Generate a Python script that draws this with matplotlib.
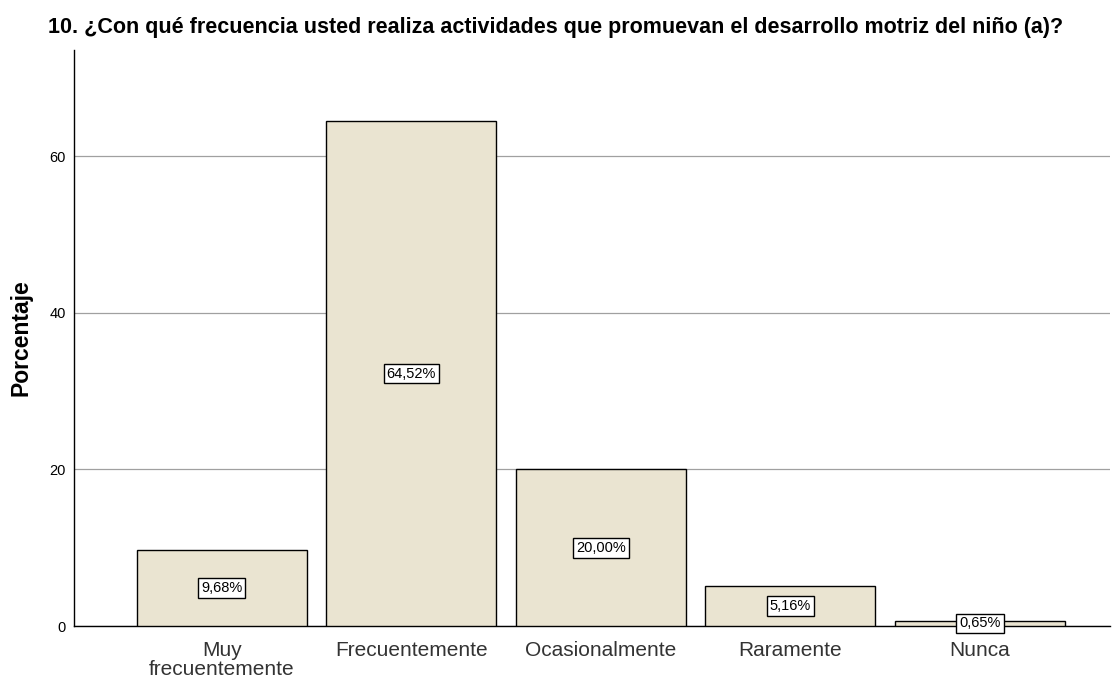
import matplotlib.pyplot as plt

plt.rcParams['font.family'] = ['Liberation Sans', 'DejaVu Sans']

categorias = ['Muy\nfrecuentemente', 'Frecuentemente', 'Ocasionalmente', 'Raramente', 'Nunca']
porcentajes = [9.68, 64.52, 20.00, 5.16, 0.65]
etiquetas = ['9,68%', '64,52%', '20,00%', '5,16%', '0,65%']

fig = plt.figure(figsize=(11.13, 6.82), dpi=100)
ax = fig.add_axes([74 / 1113, 56 / 682, 1036 / 1113, 576 / 682])

x = range(len(categorias))
ax.bar(x, porcentajes, width=0.897, color='#EAE4D1', edgecolor='black', linewidth=1, zorder=3)
for xi, v, t in zip(x, porcentajes, etiquetas):
    ax.text(xi, v / 2, t, ha='center', va='center', fontsize=10.5, zorder=4,
            bbox=dict(boxstyle='square,pad=0.2', facecolor='white', edgecolor='black', linewidth=1))

ax.set_xlim(-0.78, 4.686)
ax.set_ylim(0, 73.6)
ax.set_yticks([0, 20, 40, 60])
ax.yaxis.grid(True, color='#A0A0A0', linewidth=0.9, zorder=0)
ax.set_xticks(list(x))
ax.set_xticklabels(categorias, fontsize=15, color='#333333', linespacing=1.0)
ax.tick_params(axis='x', length=0, pad=11)
ax.tick_params(axis='y', length=0, labelsize=10.5, pad=6)
for s in ['top', 'right']:
    ax.spines[s].set_visible(False)
ax.spines['left'].set_linewidth(1)
ax.spines['bottom'].set_linewidth(1)
ax.set_ylabel('Porcentaje', fontsize=16.5, fontweight='bold', labelpad=12)

fig.text(48 / 1113, 1 - 27 / 682, '10. ¿Con qué frecuencia usted realiza actividades que promuevan el desarrollo motriz del niño (a)?',
         fontsize=15.5, fontweight='bold', va='center', ha='left')

fig.savefig('out.png', dpi=100)
